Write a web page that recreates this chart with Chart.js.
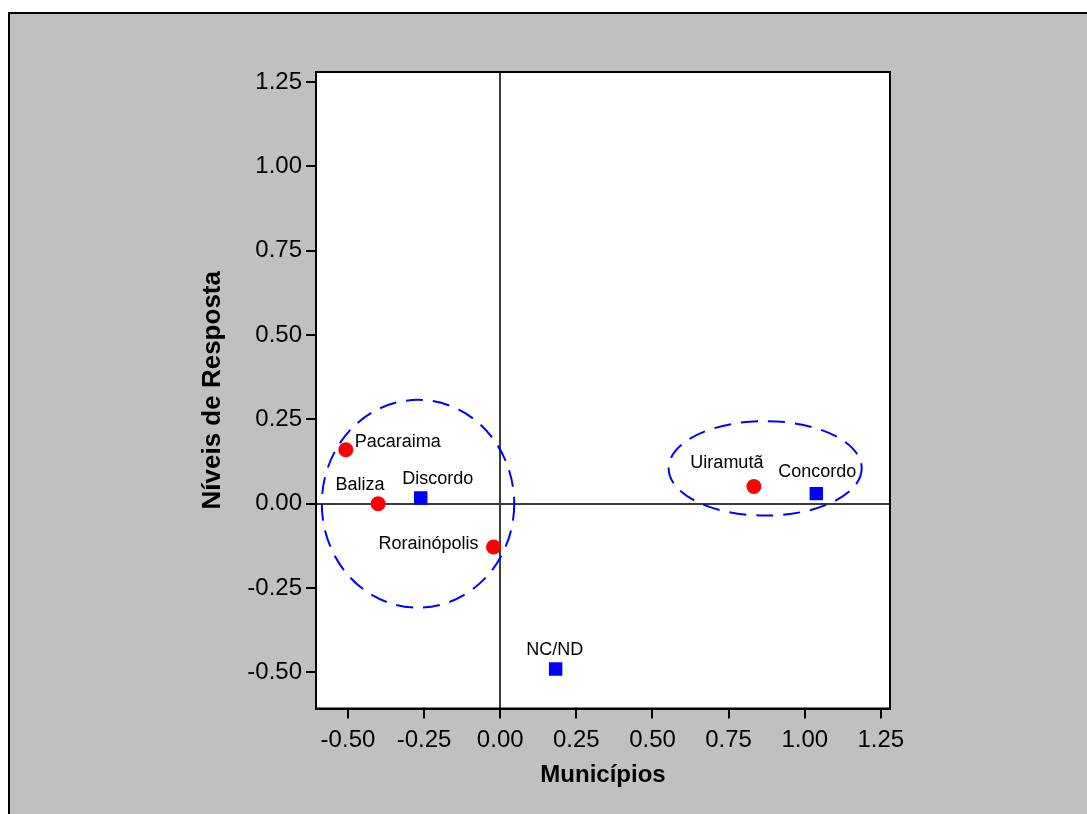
<!DOCTYPE html>
<html lang="pt">
<head>
  <meta charset="UTF-8" />
  <title>Níveis de Resposta x Municípios</title>
  <script src="https://cdn.jsdelivr.net/npm/chart.js"></script>
  <style>
    body {
      margin: 0;
      background: #ffffff;
      width: 1087px;
      height: 814px;
      overflow: hidden;
      font-family: "Liberation Sans", Arial, sans-serif;
    }
    .frame {
      position: absolute;
      left: 8px;
      top: 12px;
      width: 1079px;
      height: 802px;
      background: #c0c0c0;
      border-left: 2px solid #000;
      border-top: 2px solid #000;
    }
    .wrap {
      position: absolute;
      left: 0;
      top: 0;
      width: 1087px;
      height: 814px;
    }
  </style>
</head>
<body>
  <div class="frame"></div>
  <div class="wrap"><canvas id="chart" width="1087" height="814"></canvas></div>

  <script>
    // municípios (círculos vermelhos)
    const municNames = ['Pacaraima', 'Baliza', 'Rorainópolis', 'Uiramutã'];
    const municX = [-0.507, -0.401, -0.022, 0.833];
    const municY = [0.160, 0.000, -0.128, 0.051];

    // níveis de resposta (quadrados azuis)
    const respNames = ['Discordo', 'Concordo', 'NC/ND'];
    const respX = [-0.261, 1.038, 0.182];
    const respY = [0.017, 0.030, -0.490];

    // agrupamentos (elipses tracejadas)
    const groupCX = [-0.270, 0.870];
    const groupCY = [0.000, 0.105];
    const groupRX = [0.316, 0.317];
    const groupRY = [0.308, 0.140];

    const xTicks = [-0.50, -0.25, 0.00, 0.25, 0.50, 0.75, 1.00, 1.25];
    const yTicks = [-0.50, -0.25, 0.00, 0.25, 0.50, 0.75, 1.00, 1.25];

    // posição dos rótulos em relação ao ponto (px)
    const municLabelPos = [
      { dx: 9, dy: -8, align: 'left' },
      { dx: -18, dy: -19, align: 'center' },
      { dx: -15, dy: -3, align: 'right' },
      { dx: -27, dy: -24, align: 'center' }
    ];
    const respLabelPos = [
      { dx: 17, dy: -19, align: 'center' },
      { dx: 1, dy: -22, align: 'center' },
      { dx: -1, dy: -19, align: 'center' }
    ];

    const FONT = '"Liberation Sans", Arial, sans-serif';

    const plotFrame = {
      id: 'plotFrame',
      beforeDraw(chart) {
        const { ctx, chartArea: a } = chart;
        ctx.save();
        ctx.fillStyle = '#ffffff';
        ctx.fillRect(a.left, a.top, a.right - a.left, a.bottom - a.top);
        ctx.restore();
      },
      afterDraw(chart) {
        const { ctx, chartArea: a } = chart;
        ctx.save();
        ctx.strokeStyle = '#000';
        ctx.lineWidth = 2;
        ctx.strokeRect(a.left, a.top, a.right - a.left, a.bottom - a.top);
        ctx.restore();
      }
    };

    const groupEllipses = {
      id: 'groupEllipses',
      afterDatasetsDraw(chart) {
        const { ctx, scales: { x, y } } = chart;
        ctx.save();
        ctx.strokeStyle = '#0000ff';
        ctx.lineWidth = 2;
        ctx.setLineDash([17, 10]);
        groupCX.forEach((cx, i) => {
          const px = x.getPixelForValue(cx);
          const py = y.getPixelForValue(groupCY[i]);
          const rx = Math.abs(x.getPixelForValue(cx + groupRX[i]) - px);
          const ry = Math.abs(y.getPixelForValue(groupCY[i] + groupRY[i]) - py);
          ctx.beginPath();
          ctx.ellipse(px, py, rx, ry, 0, 0, Math.PI * 2);
          ctx.stroke();
        });
        ctx.restore();
      }
    };

    const pointLabels = {
      id: 'pointLabels',
      afterDatasetsDraw(chart) {
        const { ctx } = chart;
        const sets = [[municNames, municLabelPos], [respNames, respLabelPos]];
        ctx.save();
        ctx.font = '18px ' + FONT;
        ctx.fillStyle = '#000';
        ctx.textBaseline = 'middle';
        sets.forEach(([names, pos], di) => {
          chart.getDatasetMeta(di).data.forEach((el, i) => {
            ctx.textAlign = pos[i].align;
            ctx.fillText(names[i], el.x + pos[i].dx, el.y + pos[i].dy);
          });
        });
        ctx.restore();
      }
    };

    const zeroGrid = c => (c.tick && c.tick.value === 0 ? '#3c3c3c' : 'rgba(0,0,0,0)');

    new Chart(document.getElementById('chart'), {
      type: 'scatter',
      data: {
        datasets: [
          {
            label: 'Municípios',
            data: municX.map((v, i) => ({ x: v, y: municY[i] })),
            pointStyle: 'circle',
            pointRadius: 7.5,
            backgroundColor: '#ff0000',
            borderColor: '#ff0000',
            borderWidth: 0
          },
          {
            label: 'Níveis de Resposta',
            data: respX.map((v, i) => ({ x: v, y: respY[i] })),
            pointStyle: 'rect',
            pointRadius: 9.5,
            backgroundColor: '#0000ff',
            borderColor: '#0000ff',
            borderWidth: 0
          }
        ]
      },
      options: {
        responsive: false,
        animation: false,
        devicePixelRatio: 1,
        layout: { padding: { left: 0, top: 72, right: 197, bottom: 0 } },
        plugins: {
          legend: { display: false },
          tooltip: { enabled: false }
        },
        scales: {
          x: {
            type: 'linear',
            min: -0.605,
            max: 1.28,
            afterFit: s => { s.height = 105.5; },
            afterBuildTicks: s => { s.ticks = xTicks.map(v => ({ value: v })); },
            grid: { color: zeroGrid, lineWidth: 2, tickColor: '#000', tickLength: 10, tickWidth: 2 },
            border: { display: true, color: '#000', width: 2 },
            ticks: {
              color: '#000',
              padding: 7,
              font: { family: FONT, size: 24 },
              callback: v => v.toFixed(2)
            },
            title: {
              display: true,
              text: 'Municípios',
              color: '#000',
              font: { family: FONT, size: 24, weight: 'bold' },
              padding: { top: 0, bottom: 24 }
            }
          },
          y: {
            type: 'linear',
            min: -0.607,
            max: 1.28,
            afterFit: s => { s.width = 316; },
            afterBuildTicks: s => { s.ticks = yTicks.map(v => ({ value: v })); },
            grid: { color: zeroGrid, lineWidth: 2, tickColor: '#000', tickLength: 10, tickWidth: 2 },
            border: { display: true, color: '#000', width: 2 },
            ticks: {
              color: '#000',
              padding: 4,
              font: { family: FONT, size: 24 },
              callback: v => v.toFixed(2)
            },
            title: {
              display: true,
              text: 'Níveis de Resposta',
              color: '#000',
              font: { family: FONT, size: 26, weight: 'bold' },
              padding: { top: 197, bottom: 0 }
            }
          }
        }
      },
      plugins: [plotFrame, groupEllipses, pointLabels]
    });
  </script>
</body>
</html>
